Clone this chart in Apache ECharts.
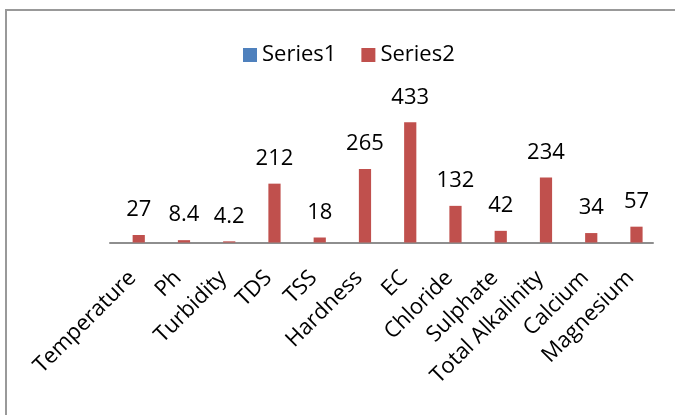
<!DOCTYPE html>
<html>
<head>
<meta charset="utf-8">
<script src="https://cdn.jsdelivr.net/npm/echarts@6/dist/echarts.min.js"></script>
<style>
html,body{margin:0;padding:0;background:#fff;}
#chart{width:675px;height:415px;}
</style>
</head>
<body>
<div id="chart"></div>
<script>
var categories = ['Temperature','Ph','Turbidity','TDS','TSS','Hardness','EC','Chloride','Sulphate','Total Alkalinity','Calcium','Magnesium'];
var series1Values = [0,0,0,0,0,0,0,0,0,0,0,0];
var series2Values = [27,8.4,4.2,212,18,265,433,132,42,234,34,57];
var seriesNames = ['Series1','Series2'];

var FONT = 'Open Sans';
var chart = echarts.init(document.getElementById('chart'), null, {renderer:'canvas'});
chart.setOption({
  animation:false,
  backgroundColor:'#ffffff',
  textStyle:{fontFamily:FONT},
  graphic:[{
    type:'rect',
    shape:{x:6,y:10,width:700,height:420},
    style:{fill:'none',stroke:'#999999',lineWidth:2},
    silent:true
  }],
  legend:{
    left:238,
    top:39,
    itemWidth:14,
    itemHeight:14,
    itemGap:25,
    icon:'rect',
    textStyle:{fontFamily:FONT,fontSize:22,color:'#000'},
    data:seriesNames
  },
  grid:{left:110,right:22,top:103.7,bottom:172.5,containLabel:false},
  xAxis:{
    type:'category',
    data:categories,
    axisLine:{show:true,lineStyle:{color:'#8e8e8e',width:2}},
    axisTick:{show:false},
    axisLabel:{interval:0,rotate:45,margin:32,fontFamily:FONT,fontSize:22,color:'#000'}
  },
  yAxis:{
    type:'value',
    min:0,max:500,
    show:false,
    splitLine:{show:false}
  },
  series:[{
    name:seriesNames[0],
    type:'bar',
    data:series1Values,
    itemStyle:{color:'#4F81BD'},
    barGap:'0%',
    barCategoryGap:'46%'
  },{
    name:seriesNames[1],
    type:'bar',
    data:series2Values,
    itemStyle:{color:'#C0504D'},
    barGap:'0%',
    barCategoryGap:'46%',
    label:{show:true,position:'top',distance:14,fontFamily:FONT,fontSize:22,color:'#000'}
  }]
});
</script>
</body>
</html>
